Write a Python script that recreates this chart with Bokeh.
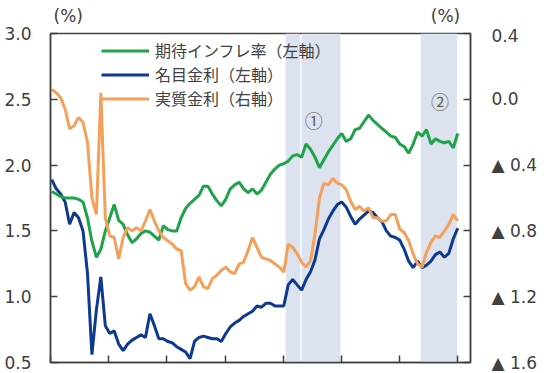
import pandas as pd
from bokeh.plotting import figure
from bokeh.layouts import column
from bokeh.models import (Range1d, LinearAxis, FixedTicker, CustomJSTickFormatter,
                          BoxAnnotation, Legend, LegendItem, Label, ColumnDataSource)
from bokeh.core.properties import value
from bokeh.embed import file_html
from bokeh.resources import INLINE

# ---- data (weekly, Jan 2020 - Oct 2021) ----
dates = pd.date_range("2020-01-03", periods=92, freq="W-FRI")

expected_inflation = [  # left axis, %
    1.80, 1.78, 1.76, 1.75, 1.75, 1.75, 1.74, 1.72, 1.60, 1.42,
    1.30, 1.36, 1.50, 1.60, 1.70, 1.58, 1.55, 1.47, 1.41, 1.44,
    1.48, 1.50, 1.49, 1.46, 1.43, 1.54, 1.51, 1.50, 1.50, 1.60,
    1.67, 1.71, 1.74, 1.77, 1.84, 1.84, 1.78, 1.73, 1.69, 1.74,
    1.82, 1.85, 1.87, 1.82, 1.79, 1.82, 1.78, 1.81, 1.87, 1.93,
    1.97, 2.00, 2.01, 2.03, 2.07, 2.08, 2.06, 2.16, 2.12, 2.06,
    1.98, 2.04, 2.10, 2.15, 2.20, 2.24, 2.18, 2.20, 2.27, 2.28,
    2.33, 2.38, 2.34, 2.31, 2.28, 2.25, 2.22, 2.21, 2.16, 2.14,
    2.09, 2.16, 2.25, 2.22, 2.27, 2.16, 2.20, 2.18, 2.17, 2.18,
    2.13, 2.24]

nominal_rate = [  # left axis, %
    1.89, 1.82, 1.78, 1.72, 1.55, 1.64, 1.60, 1.50, 1.18, 0.56,
    0.90, 1.15, 0.78, 0.72, 0.74, 0.64, 0.59, 0.64, 0.67, 0.69,
    0.71, 0.69, 0.87, 0.78, 0.68, 0.68, 0.66, 0.65, 0.62, 0.60,
    0.58, 0.53, 0.66, 0.69, 0.70, 0.69, 0.68, 0.68, 0.66, 0.72,
    0.77, 0.80, 0.82, 0.85, 0.87, 0.89, 0.93, 0.92, 0.95, 0.95,
    0.93, 0.93, 0.93, 1.09, 1.13, 1.09, 1.05, 1.13, 1.19, 1.28,
    1.44, 1.51, 1.59, 1.65, 1.70, 1.72, 1.68, 1.61, 1.55, 1.59,
    1.62, 1.65, 1.64, 1.60, 1.57, 1.50, 1.46, 1.45, 1.43, 1.36,
    1.27, 1.22, 1.27, 1.22, 1.24, 1.27, 1.32, 1.34, 1.30, 1.33,
    1.44, 1.52]

real_rate = [  # right axis, %
    0.06, 0.04, 0.01, -0.06, -0.18, -0.16, -0.11, -0.14, -0.26, -0.60,
    -0.70, 0.04, -0.72, -0.83, -0.84, -0.97, -0.84, -0.78, -0.80, -0.78,
    -0.80, -0.74, -0.67, -0.74, -0.80, -0.84, -0.86, -0.88, -0.91, -0.92,
    -1.12, -1.16, -1.14, -1.08, -1.14, -1.15, -1.09, -1.07, -1.04, -1.02,
    -1.05, -1.06, -1.00, -0.99, -0.92, -0.84, -0.90, -0.96, -0.97, -0.98,
    -1.00, -1.02, -1.05, -0.88, -0.90, -0.94, -0.99, -1.02, -0.98, -0.82,
    -0.60, -0.51, -0.52, -0.48, -0.51, -0.52, -0.55, -0.62, -0.67, -0.65,
    -0.68, -0.66, -0.72, -0.72, -0.74, -0.74, -0.70, -0.70, -0.79, -0.81,
    -0.86, -0.94, -1.00, -1.02, -0.93, -0.87, -0.83, -0.84, -0.80, -0.76,
    -0.70, -0.74]

x_tick_dates = ["2020-01-01", "2020-04-01", "2020-07-01", "2020-10-01",
                "2021-01-01", "2021-04-01", "2021-07-01", "2021-10-01"]
left_ticks = [0.5, 1.0, 1.5, 2.0, 2.5, 3.0]
right_ticks = [-1.6, -1.2, -0.8, -0.4, 0.0, 0.4]
legend_labels = ["期待インフレ率（左軸）", "名目金利（左軸）", "実質金利（右軸）"]
unit_labels = ["(%)", "(%)"]
bands = [("2021-01-04", "2021-01-27"), ("2021-01-29", "2021-03-31"),
         ("2021-08-04", "2021-09-30")]
band_marks = [("①", "2021-02-17", 2.34), ("②", "2021-09-03", 2.49)]


def ms(s):
    return pd.Timestamp(s).value / 1e6


GREEN = "#1fa34a"
BLUE = "#0d3a8f"
ORANGE = "#f4a05a"
TXT = "#404040"
FONT = "DejaVu Sans"
JFONT = "Noto Sans CJK JP"

# ---- header strip carrying the unit labels ----
header = figure(width=550, height=25, output_backend="svg", toolbar_location=None,
                x_range=Range1d(0, 550), y_range=Range1d(0, 25),
                x_axis_location=None, y_axis_location=None, min_border=0)
header.grid.visible = False
header.outline_line_color = None
header.text(x=[4, 498], y=[10, 10], text=unit_labels, text_font=value(FONT),
            text_font_size="17px", text_color=TXT, text_baseline="middle")

# ---- main chart ----
src = ColumnDataSource(dict(date=dates, ei=expected_inflation,
                            nr=nominal_rate, rr=real_rate))

p = figure(width=550, height=348, x_axis_type="datetime",
           output_backend="svg", toolbar_location=None,
           x_range=Range1d(ms("2020-01-01"), ms("2021-10-21")),
           y_range=Range1d(0.5, 3.0),
           min_border_left=50, min_border_right=80,
           min_border_top=8, min_border_bottom=11)
p.extra_y_ranges = {"right": Range1d(-1.6, 0.4)}
p.grid.visible = False
p.outline_line_color = TXT
p.outline_line_width = 1.5

for a, b in bands:
    p.add_layout(BoxAnnotation(left=ms(a), right=ms(b), fill_color="#dce3ee",
                               fill_alpha=1.0, line_color=None, level="underlay"))

r_blue = p.line("date", "nr", source=src, color=BLUE, line_width=3)
r_green = p.line("date", "ei", source=src, color=GREEN, line_width=3)
r_orange = p.line("date", "rr", source=src, color=ORANGE, line_width=3,
                  y_range_name="right")

yl = p.yaxis[0]
yl.ticker = FixedTicker(ticks=left_ticks)
yl.formatter = CustomJSTickFormatter(code="return tick.toFixed(1);")

yr = LinearAxis(y_range_name="right")
yr.ticker = FixedTicker(ticks=right_ticks)
yr.formatter = CustomJSTickFormatter(code="""
const v = Math.round(tick * 10) / 10;
if (v < 0) { return "\u25b2 " + Math.abs(v).toFixed(1); }
return Math.abs(v).toFixed(1);
""")
p.add_layout(yr, "right")

xa = p.xaxis[0]
xa.ticker = FixedTicker(ticks=[ms(d) for d in x_tick_dates])
xa.formatter = CustomJSTickFormatter(code="return '';")
xa.major_label_standoff = 0

for ax in [yl, yr, xa]:
    ax.axis_line_color = TXT
    ax.axis_line_width = 1.5
    ax.major_tick_line_color = TXT
    ax.major_tick_line_width = 1.5
    ax.major_tick_in = 7
    ax.major_tick_out = 0
    ax.minor_tick_line_color = None
    ax.major_label_text_font = FONT
    ax.major_label_text_font_size = "17px"
    ax.major_label_text_color = TXT
yl.major_label_standoff = 19
yr.major_label_standoff = 21

for t, d, yv in band_marks:
    p.add_layout(Label(x=ms(d), y=yv, text=t, text_font=JFONT,
                       text_font_size="18px", text_color="#606060",
                       text_align="center", text_baseline="middle"))

legend = Legend(items=[LegendItem(label=legend_labels[0], renderers=[r_green]),
                       LegendItem(label=legend_labels[1], renderers=[r_blue]),
                       LegendItem(label=legend_labels[2], renderers=[r_orange])],
                location=(51, 252))
legend.border_line_color = None
legend.background_fill_alpha = 0
legend.label_text_font = JFONT
legend.label_text_font_size = "16px"
legend.label_text_color = TXT
legend.glyph_width = 48
legend.glyph_height = 23
legend.label_height = 23
legend.spacing = 0
legend.padding = 0
legend.margin = 0
legend.label_standoff = 6
p.add_layout(legend)

open("out.html", "w").write(file_html(column(header, p, spacing=0), INLINE))
